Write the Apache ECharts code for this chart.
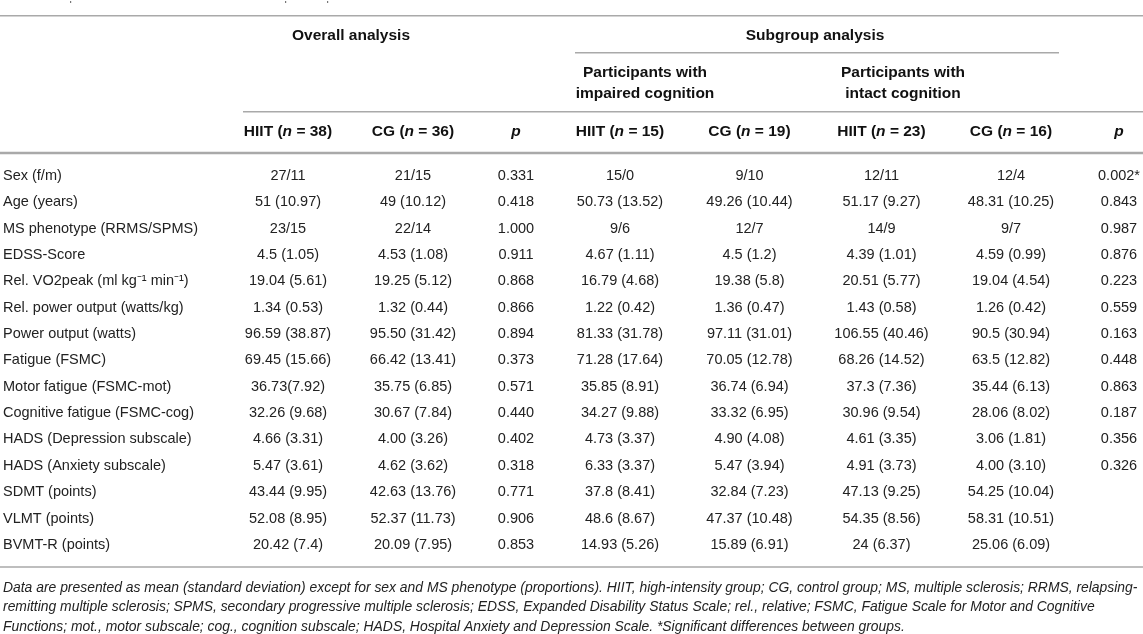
<!DOCTYPE html>
<html>
<head>
<meta charset="utf-8">
<script src="https://cdn.jsdelivr.net/npm/echarts@6/dist/echarts.min.js"></script>
<style>
  html, body { margin: 0; padding: 0; background: #fff; }
  #main { width: 1143px; height: 634px; }
</style>
</head>
<body>
<div id="main"></div>
<script>
// table contents
var rowLabels = ['Sex (f/m)', 'Age (years)', 'MS phenotype (RRMS/SPMS)', 'EDSS-Score',
  'Rel. VO2peak (ml kg\u207B\u00B9 min\u207B\u00B9)', 'Rel. power output (watts/kg)', 'Power output (watts)',
  'Fatigue (FSMC)', 'Motor fatigue (FSMC-mot)', 'Cognitive fatigue (FSMC-cog)', 'HADS (Depression subscale)',
  'HADS (Anxiety subscale)', 'SDMT (points)', 'VLMT (points)', 'BVMT-R (points)']
var hiitAll = ['27/11', '51 (10.97)', '23/15', '4.5 (1.05)', '19.04 (5.61)', '1.34 (0.53)', '96.59 (38.87)',
  '69.45 (15.66)', '36.73(7.92)', '32.26 (9.68)', '4.66 (3.31)', '5.47 (3.61)', '43.44 (9.95)', '52.08 (8.95)', '20.42 (7.4)']
var cgAll = ['21/15', '49 (10.12)', '22/14', '4.53 (1.08)', '19.25 (5.12)', '1.32 (0.44)', '95.50 (31.42)',
  '66.42 (13.41)', '35.75 (6.85)', '30.67 (7.84)', '4.00 (3.26)', '4.62 (3.62)', '42.63 (13.76)', '52.37 (11.73)', '20.09 (7.95)']
var pAll = ['0.331', '0.418', '1.000', '0.911', '0.868', '0.866', '0.894', '0.373', '0.571', '0.440', '0.402',
  '0.318', '0.771', '0.906', '0.853']
var hiitImp = ['15/0', '50.73 (13.52)', '9/6', '4.67 (1.11)', '16.79 (4.68)', '1.22 (0.42)', '81.33 (31.78)',
  '71.28 (17.64)', '35.85 (8.91)', '34.27 (9.88)', '4.73 (3.37)', '6.33 (3.37)', '37.8 (8.41)', '48.6 (8.67)', '14.93 (5.26)']
var cgImp = ['9/10', '49.26 (10.44)', '12/7', '4.5 (1.2)', '19.38 (5.8)', '1.36 (0.47)', '97.11 (31.01)',
  '70.05 (12.78)', '36.74 (6.94)', '33.32 (6.95)', '4.90 (4.08)', '5.47 (3.94)', '32.84 (7.23)', '47.37 (10.48)', '15.89 (6.91)']
var hiitInt = ['12/11', '51.17 (9.27)', '14/9', '4.39 (1.01)', '20.51 (5.77)', '1.43 (0.58)', '106.55 (40.46)',
  '68.26 (14.52)', '37.3 (7.36)', '30.96 (9.54)', '4.61 (3.35)', '4.91 (3.73)', '47.13 (9.25)', '54.35 (8.56)', '24 (6.37)']
var cgInt = ['12/4', '48.31 (10.25)', '9/7', '4.59 (0.99)', '19.04 (4.54)', '1.26 (0.42)', '90.5 (30.94)',
  '63.5 (12.82)', '35.44 (6.13)', '28.06 (8.02)', '3.06 (1.81)', '4.00 (3.10)', '54.25 (10.04)', '58.31 (10.51)', '25.06 (6.09)']
var pSub = ['0.002*', '0.843', '0.987', '0.876', '0.223', '0.559', '0.163', '0.448', '0.863', '0.187', '0.356',
  '0.326', '', '', '']

// header texts
var groupHeaders = ['Overall analysis', 'Subgroup analysis']
var subHeaders = ['Participants with\nimpaired cognition', 'Participants with\nintact cognition']
var colNames = ['HIIT', 'CG', '', 'HIIT', 'CG', 'HIIT', 'CG', '']
var colN = [38, 36, null, 15, 19, 23, 16, null]
var footnote = [
  'Data are presented as mean (standard deviation) except for sex and MS phenotype (proportions). HIIT, high-intensity group; CG, control group; MS, multiple sclerosis; RRMS, relapsing-',
  'remitting multiple sclerosis; SPMS, secondary progressive multiple sclerosis; EDSS, Expanded Disability Status Scale; rel., relative; FSMC, Fatigue Scale for Motor and Cognitive',
  'Functions; mot., motor subscale; cog., cognition subscale; HADS, Hospital Anxiety and Depression Scale. *Significant differences between groups.'
]

// layout (pixels)
var W = 1143
var FONT = 'Liberation Sans, Arial, Helvetica, sans-serif'
var colX = [3, 288, 413, 516, 620, 749.5, 881.5, 1011, 1119]
var groupX = [351, 815]
var subX = [645, 903]
var rowTop = 162.8, rowH = 26.35
var lineColor = '#a9a9a9'

var columns = [rowLabels, hiitAll, cgAll, pAll, hiitImp, cgImp, hiitInt, cgInt, pSub]

var cellData = []
var cellText = []
columns.forEach(function (col, c) {
  col.forEach(function (txt, r) {
    cellData.push([colX[c], r, c])
    cellText.push(txt)
  })
})

function hline(x1, x2, y, w) {
  return { type: 'line', silent: true, shape: { x1: x1, y1: y, x2: x2, y2: y },
    style: { stroke: lineColor, lineWidth: w } }
}
function boldText(txt, x, y) {
  return { type: 'text', x: x, y: y, silent: true,
    style: { text: txt, font: 'bold 15.5px ' + FONT, fill: '#111', align: 'center', verticalAlign: 'middle',
      lineHeight: 21,
      rich: { i: { fontStyle: 'italic', fontWeight: 'bold', fontSize: 15.5, fontFamily: FONT, fill: '#111' } } } }
}

var graphics = [
  hline(0, W, 15.7, 1.5),
  hline(575, 1059, 52.7, 1.5),
  hline(243, W, 111.7, 1.5),
  hline(0, W, 153, 2.5),
  hline(0, W, 567, 1.5)
]
groupHeaders.forEach(function (t, i) { graphics.push(boldText(t, groupX[i], 36)) })
subHeaders.forEach(function (t, i) { graphics.push(boldText(t, subX[i], 83.5)) })
colNames.forEach(function (name, i) {
  var txt = colN[i] == null ? '{i|p}' : name + ' ({i|n} = ' + colN[i] + ')'
  graphics.push(boldText(txt, colX[i + 1], 131.7))
})
footnote.forEach(function (t, i) {
  graphics.push({ type: 'text', x: 3, y: 588 + i * 19.5, silent: true,
    style: { text: t, font: 'italic 13.9px ' + FONT, fill: '#222', align: 'left', verticalAlign: 'middle' } })
})
// remnants of the caption cut off at the top edge
;[70, 285, 327].forEach(function (x) {
  graphics.push({ type: 'rect', silent: true, shape: { x: x, y: 1, width: 1.2, height: 2 }, style: { fill: '#777' } })
})

var myChart = echarts.init(document.getElementById('main'))
var option = {
  animation: false,
  backgroundColor: '#fff',
  grid: { left: 0, width: W, top: rowTop, height: rowH * rowLabels.length },
  xAxis: { type: 'value', min: 0, max: W, show: false },
  yAxis: { type: 'category', data: rowLabels, inverse: true, show: false },
  graphic: graphics,
  series: [{
    type: 'custom',
    coordinateSystem: 'cartesian2d',
    clip: false,
    data: cellData,
    renderItem: function (params, api) {
      var p = api.coord([api.value(0), api.value(1)])
      var first = api.value(2) === 0
      return {
        type: 'text',
        x: p[0], y: p[1],
        style: {
          text: cellText[params.dataIndex],
          font: '14.5px ' + FONT,
          fill: '#222',
          align: first ? 'left' : 'center',
          verticalAlign: 'middle'
        }
      }
    }
  }]
}
myChart.setOption(option)
</script>
</body>
</html>
